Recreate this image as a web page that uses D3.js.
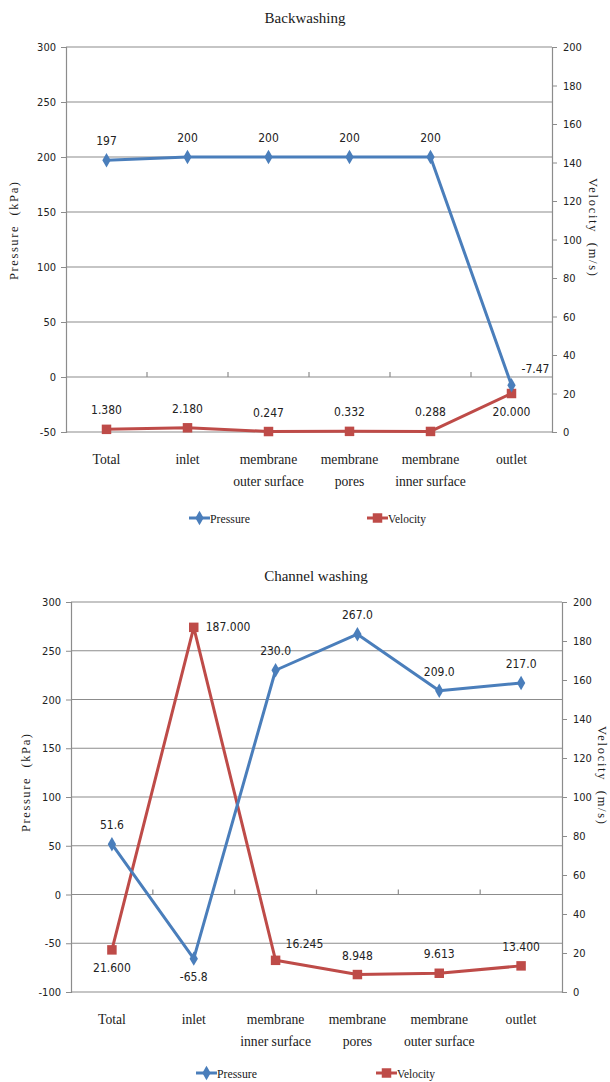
<!DOCTYPE html>
<html>
<head>
<meta charset="utf-8">
<script src="https://cdn.jsdelivr.net/npm/d3@7"></script>
<style>
  html, body { margin: 0; padding: 0; background: #fff; }
  svg { display: block; }
  .narrow { font-family: 'DejaVu Sans', sans-serif; font-stretch: condensed; }
</style>
</head>
<body>
<svg id="chart" width="610" height="1082"></svg>
<script>
// ---- Backwashing ----
const backCategories = ["Total", "inlet", "membrane\nouter surface", "membrane\npores", "membrane\ninner surface", "outlet"];
const backPressure = [197, 200, 200, 200, 200, -7.47];
const backPressureLabels = ["197", "200", "200", "200", "200", "-7.47"];
const backVelocity = [1.380, 2.180, 0.247, 0.332, 0.288, 20.000];
const backVelocityLabels = ["1.380", "2.180", "0.247", "0.332", "0.288", "20.000"];

// ---- Channel washing ----
const chanCategories = ["Total", "inlet", "membrane\ninner surface", "membrane\npores", "membrane\nouter surface", "outlet"];
const chanPressure = [51.6, -65.8, 230.0, 267.0, 209.0, 217.0];
const chanPressureLabels = ["51.6", "-65.8", "230.0", "267.0", "209.0", "217.0"];
const chanVelocity = [21.600, 187.000, 16.245, 8.948, 9.613, 13.400];
const chanVelocityLabels = ["21.600", "187.000", "16.245", "8.948", "9.613", "13.400"];

// ---- Axis ticks ----
const backPressureTicks = [-50, 0, 50, 100, 150, 200, 250, 300];
const chanPressureTicks = [-100, -50, 0, 50, 100, 150, 200, 250, 300];
const velocityTicks = [0, 20, 40, 60, 80, 100, 120, 140, 160, 180, 200];

const BLUE = "#4a7ebb";
const RED = "#be4b48";
const GRID = "#8c8c8c";
const SERIF = "'Liberation Serif', 'Times New Roman', serif";
const SQUEEZE = 0.88; // horizontal compression for serif labels

const svg = d3.select("#chart");

function drawChart(o) {
  const g = svg.append("g");
  const x = d3.scaleBand().domain(o.categories).range([o.left, o.right]);
  const yP = d3.scaleLinear().domain(d3.extent(o.pTicks)).range([o.bottom, o.top]);
  const yV = d3.scaleLinear().domain(d3.extent(velocityTicks)).range([o.bottom, o.top]);
  const cx = c => x(c) + x.bandwidth() / 2;

  // title
  g.append("text").attr("x", o.titleX).attr("y", o.titleY)
    .attr("text-anchor", "middle").attr("font-family", SERIF).attr("font-size", 15)
    .attr("fill", "#1a1a1a").text(o.title);

  // horizontal gridlines
  g.append("g").selectAll("line").data(o.pTicks).join("line")
    .attr("x1", o.left).attr("x2", o.right)
    .attr("y1", d => yP(d)).attr("y2", d => yP(d))
    .attr("stroke", GRID).attr("stroke-width", 1.2);

  // left axis
  const la = g.append("g").attr("transform", `translate(${o.left},0)`)
    .call(d3.axisLeft(yP).tickValues(o.pTicks).tickSize(5).tickPadding(5).tickFormat(d => String(d)));
  la.select(".domain").attr("stroke", GRID).attr("stroke-width", 1.2);
  la.selectAll(".tick line").attr("stroke", GRID);
  la.selectAll(".tick text").attr("class", "narrow").attr("font-family", null).attr("font-size", 11).attr("fill", "#222");

  // right axis
  const ra = g.append("g").attr("transform", `translate(${o.right},0)`)
    .call(d3.axisRight(yV).tickValues(velocityTicks).tickSize(5).tickPadding(6).tickFormat(d => String(d)));
  ra.select(".domain").attr("stroke", GRID).attr("stroke-width", 1.2);
  ra.selectAll(".tick line").attr("stroke", GRID);
  ra.selectAll(".tick text").attr("class", "narrow").attr("font-family", null).attr("font-size", 11).attr("fill", "#222");

  // category tick marks on the zero line
  const y0 = yP(0);
  g.append("g").selectAll("line").data(o.categories.slice(1)).join("line")
    .attr("x1", d => x(d)).attr("x2", d => x(d))
    .attr("y1", y0).attr("y2", y0 - 5)
    .attr("stroke", GRID).attr("stroke-width", 1.2);

  // category labels (slightly condensed serif)
  const cl = g.append("g").attr("transform", `scale(${SQUEEZE},1)`)
    .selectAll("text").data(o.categories).join("text")
    .attr("y", o.bottom + 32)
    .attr("text-anchor", "middle").attr("font-family", SERIF).attr("font-size", 15.5)
    .attr("fill", "#1a1a1a");
  cl.each(function (d) {
    const lines = d.split("\n");
    d3.select(this).selectAll("tspan").data(lines).join("tspan")
      .attr("x", cx(d) / SQUEEZE).attr("dy", (t, i) => i === 0 ? 0 : 22).text(t => t);
  });

  // axis titles
  g.append("text")
    .attr("transform", `translate(${o.leftTitleX},${o.leftTitleY}) rotate(-90)`)
    .attr("text-anchor", "middle").attr("font-family", SERIF).attr("font-size", 12.5)
    .attr("textLength", 98).attr("lengthAdjust", "spacing")
    .attr("fill", "#1a1a1a").style("white-space", "pre")
    .text("Pressure  (kPa)");
  g.append("text")
    .attr("transform", `translate(${o.rightTitleX},${o.rightTitleY}) rotate(90)`)
    .attr("text-anchor", "middle").attr("font-family", SERIF).attr("font-size", 12.5)
    .attr("textLength", 98).attr("lengthAdjust", "spacing")
    .attr("fill", "#1a1a1a").style("white-space", "pre")
    .text("Velocity  (m/s)");

  const diamond = d3.symbol().type(d3.symbolDiamond).size(60);
  const square = d3.symbol().type(d3.symbolSquare).size(90);

  // velocity series
  g.append("path").datum(o.velocity)
    .attr("d", d3.line().x((d, i) => cx(o.categories[i])).y(d => yV(d)))
    .attr("fill", "none").attr("stroke", RED).attr("stroke-width", 3).attr("stroke-linejoin", "round");
  g.append("g").selectAll("path").data(o.velocity).join("path")
    .attr("d", square)
    .attr("transform", (d, i) => `translate(${cx(o.categories[i])},${yV(d)})`)
    .attr("fill", RED);

  // pressure series
  g.append("path").datum(o.pressure)
    .attr("d", d3.line().x((d, i) => cx(o.categories[i])).y(d => yP(d)))
    .attr("fill", "none").attr("stroke", BLUE).attr("stroke-width", 3).attr("stroke-linejoin", "round");
  g.append("g").selectAll("path").data(o.pressure).join("path")
    .attr("d", diamond)
    .attr("transform", (d, i) => `translate(${cx(o.categories[i])},${yP(d)})`)
    .attr("fill", BLUE);

  // data labels
  const place = { above: [0, -15, "middle"], below: [0, 22, "middle"], right: [12, 4, "start"], aboveRight: [10, -12, "start"] };
  function labels(vals, texts, pos, scale) {
    g.append("g").selectAll("text").data(vals).join("text")
      .attr("class", "narrow")
      .attr("x", (d, i) => cx(o.categories[i]) + place[pos[i]][0])
      .attr("y", (d, i) => scale(d) + place[pos[i]][1])
      .attr("text-anchor", (d, i) => place[pos[i]][2])
      .attr("font-size", 12).attr("fill", "#222")
      .text((d, i) => texts[i]);
  }
  labels(o.pressure, o.pressureLabels, o.pPos, yP);
  labels(o.velocity, o.velocityLabels, o.vPos, yV);

  // legend
  const lg = g.append("g").attr("transform", `translate(0,${o.legendY})`);
  [[o.legendX[0], BLUE, diamond, "Pressure", 40], [o.legendX[1], RED, square, "Velocity", 38]].forEach(([lx, col, sym, name, w]) => {
    lg.append("line").attr("x1", lx).attr("x2", lx + 21).attr("stroke", col).attr("stroke-width", 3);
    lg.append("path").attr("d", sym).attr("transform", `translate(${lx + 10.5},0)`).attr("fill", col);
    lg.append("text").attr("x", lx + 21).attr("y", 4.5).attr("font-family", SERIF)
      .attr("font-size", 13.5).attr("textLength", w).attr("lengthAdjust", "spacingAndGlyphs")
      .attr("fill", "#1a1a1a").text(name);
  });
}

drawChart({
  title: "Backwashing", titleX: 305, titleY: 23,
  categories: backCategories,
  pressure: backPressure, pressureLabels: backPressureLabels,
  velocity: backVelocity, velocityLabels: backVelocityLabels,
  pTicks: backPressureTicks,
  left: 66, right: 552, top: 47, bottom: 432,
  leftTitleX: 18, leftTitleY: 231, rightTitleX: 589, rightTitleY: 227,
  pPos: ["above", "above", "above", "above", "above", "aboveRight"],
  vPos: ["above", "above", "above", "above", "above", "below"],
  legendX: [189, 367], legendY: 518
});

drawChart({
  title: "Channel washing", titleX: 316, titleY: 581,
  categories: chanCategories,
  pressure: chanPressure, pressureLabels: chanPressureLabels,
  velocity: chanVelocity, velocityLabels: chanVelocityLabels,
  pTicks: chanPressureTicks,
  left: 71, right: 562, top: 602, bottom: 992,
  leftTitleX: 30, leftTitleY: 783, rightTitleX: 598, rightTitleY: 775,
  pPos: ["above", "below", "above", "above", "above", "above"],
  vPos: ["below", "right", "aboveRight", "above", "above", "above"],
  legendX: [196, 376], legendY: 1073
});
</script>
</body>
</html>
